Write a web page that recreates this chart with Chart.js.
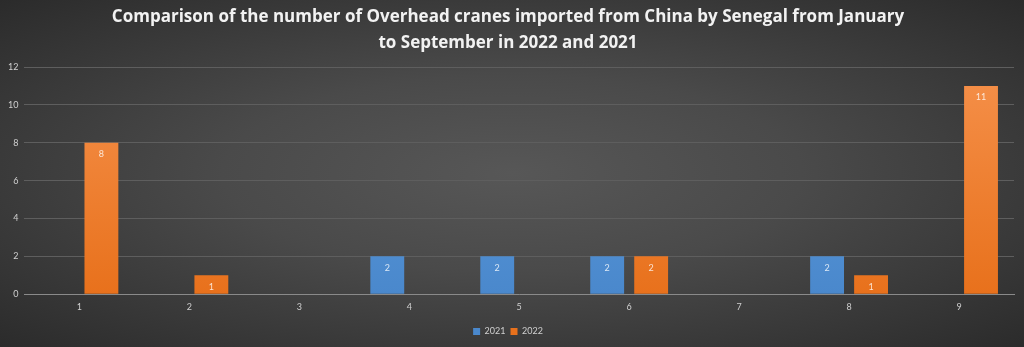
<!DOCTYPE html>
<html>
<head>
<meta charset="utf-8">
<script src="https://cdn.jsdelivr.net/npm/chart.js@4.4.1/dist/chart.umd.min.js"></script>
<style>
  html, body { margin: 0; padding: 0; }
  body { width: 1024px; height: 347px; overflow: hidden; }
  #wrap {
    width: 1024px; height: 347px;
    background: radial-gradient(ellipse at 50% 50%, #575757 0%, #4a4a4a 40%, #2b2b2b 100%);
  }
</style>
</head>
<body>
<div id="wrap"><canvas id="chart" width="1024" height="347"></canvas></div>
<script>
const months = ['1', '2', '3', '4', '5', '6', '7', '8', '9'];
const values2021 = [null, null, null, 2, 2, 2, null, 2, null];
const values2022 = [8, 1, null, null, null, 2, null, 1, 11];
const yTicks = [0, 2, 4, 6, 8, 10, 12];

const FONT = 'Lato, "Open Sans", sans-serif';

function barFill(top, bottom) {
  return (ctx) => {
    const area = ctx.chart.chartArea;
    if (!area) return bottom;
    const g = ctx.chart.ctx.createLinearGradient(0, area.top, 0, area.bottom);
    g.addColorStop(0, top);
    g.addColorStop(1, bottom);
    return g;
  };
}

// value labels drawn just inside the top of each bar
const barLabels = {
  id: 'barLabels',
  afterDatasetsDraw(chart) {
    const { ctx } = chart;
    ctx.save();
    ctx.font = '9px ' + FONT;
    ctx.fillStyle = 'rgba(255,255,255,0.8)';
    ctx.textAlign = 'center';
    ctx.textBaseline = 'top';
    chart.data.datasets.forEach((ds, i) => {
      chart.getDatasetMeta(i).data.forEach((bar, j) => {
        const v = ds.data[j];
        if (v == null) return;
        ctx.fillText(String(v), bar.x, bar.y + 7);
      });
    });
    ctx.restore();
  }
};

new Chart(document.getElementById('chart'), {
  type: 'bar',
  data: {
    labels: months,
    datasets: [
      {
        label: '2021',
        data: values2021,
        backgroundColor: barFill('#5f9fe0', '#4a88cc'),
        borderWidth: 0
      },
      {
        label: '2022',
        data: values2022,
        backgroundColor: barFill('#f5904a', '#e8711c'),
        borderWidth: 0
      }
    ]
  },
  options: {
    responsive: false,
    animation: false,
    layout: { padding: { left: 2, right: 10, top: 0, bottom: 1 } },
    datasets: {
      bar: { categoryPercentage: 0.8, barPercentage: 0.77, skipNull: false }
    },
    scales: {
      x: {
        grid: { display: false, drawTicks: false },
        border: { display: true, color: '#8a8a8a', width: 1 },
        ticks: { color: '#d0d0d0', font: { size: 9, family: FONT }, padding: 7 },
        afterFit(axis) { axis.height += 3; }
      },
      y: {
        min: 0,
        max: 12,
        afterBuildTicks(axis) { axis.ticks = yTicks.map(v => ({ value: v })); },
        grid: { color: '#5e5e5e', lineWidth: 1, drawTicks: false },
        border: { display: false },
        ticks: { color: '#d0d0d0', font: { size: 9, family: FONT }, padding: 6 }
      }
    },
    plugins: {
      title: {
        display: true,
        text: ['Comparison of the number of Overhead cranes imported from China by Senegal from January', 'to September in 2022 and 2021'],
        color: '#f2f2f2',
        font: { size: 17, weight: 'bold', family: '"Open Sans", sans-serif', lineHeight: 1.53 },
        padding: { top: 4, bottom: 11 }
      },
      legend: {
        position: 'bottom',
        labels: {
          color: '#d0d0d0',
          font: { size: 9, family: FONT },
          boxWidth: 7,
          boxHeight: 7,
          padding: 5
        }
      },
      tooltip: { enabled: false }
    }
  },
  plugins: [barLabels]
});
</script>
</body>
</html>
